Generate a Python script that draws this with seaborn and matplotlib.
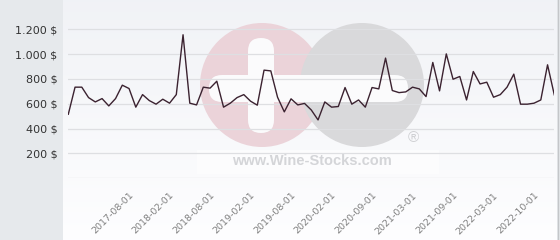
import numpy as np
import pandas as pd
import matplotlib
matplotlib.use("Agg")
import matplotlib.pyplot as plt
from matplotlib.patches import Circle, Rectangle, FancyBboxPatch
import seaborn as sns

# ---- data ----
dates = [
    "2016-11-01", "2016-12-01",
    "2017-01-01", "2017-02-01", "2017-03-01", "2017-04-01", "2017-05-01", "2017-06-01",
    "2017-07-01", "2017-08-01", "2017-09-01", "2017-10-01", "2017-11-01", "2017-12-01",
    "2018-01-01", "2018-02-01", "2018-03-01", "2018-04-01", "2018-05-01", "2018-06-01",
    "2018-07-01", "2018-08-01", "2018-09-01", "2018-10-01", "2018-11-01", "2018-12-01",
    "2019-01-01", "2019-02-01", "2019-03-01", "2019-04-01", "2019-05-01", "2019-06-01",
    "2019-07-01", "2019-08-01", "2019-09-01", "2019-10-01", "2019-11-01", "2019-12-01",
    "2020-01-01", "2020-02-01", "2020-03-01", "2020-05-01", "2020-06-01", "2020-07-01",
    "2020-08-01", "2020-09-01", "2020-10-01", "2020-11-01", "2020-12-01",
    "2021-01-01", "2021-02-01", "2021-03-01", "2021-04-01", "2021-05-01", "2021-06-01",
    "2021-07-01", "2021-08-01", "2021-09-01", "2021-10-01", "2021-11-01", "2021-12-01",
    "2022-01-01", "2022-02-01", "2022-03-01", "2022-04-01", "2022-05-01", "2022-06-01",
    "2022-07-01", "2022-09-01", "2022-10-01", "2022-11-01", "2022-12-01",
    "2023-01-01",
]
prices = [
    516, 734, 734, 650, 615, 642, 583, 642, 750, 723,
    573, 674, 626, 597, 637, 605, 674, 1156, 605, 591,
    734, 726, 782, 573, 605, 650, 674, 621, 589, 871,
    865, 653, 535, 640, 591, 603, 550, 470, 615, 573,
    578, 731, 597, 631, 573, 731, 720, 968, 707, 690,
    696, 734, 720, 658, 933, 704, 1002, 798, 820, 631,
    860, 760, 774, 653, 674, 734, 839, 597, 597, 605,
    631, 914, 672,
]
label_dates = ["2017-08-01", "2018-02-01", "2018-08-01", "2019-02-01", "2019-08-01",
               "2020-02-01", "2020-09-01", "2021-03-01", "2021-09-01", "2022-03-01",
               "2022-10-01"]
y_ticks = [0, 200, 400, 600, 800, 1000, 1200]
y_labels = ["", "200 $", "400 $", "600 $", "800 $", "1.000 $", "1.200 $"]

df = pd.DataFrame({"date": dates, "price": prices})
df["pos"] = np.arange(len(df))

W, H = 560, 240
fig = plt.figure(figsize=(W / 100, H / 100), dpi=100)
fig.patch.set_facecolor("white")

# ---- background layer (pixel coordinates) ----
bg = fig.add_axes([0, 0, 1, 1], zorder=0)
bg.set_xlim(0, W)
bg.set_ylim(H, 0)
bg.axis("off")
grad = np.linspace(0, 1, 100)[:, None]
top = np.array([0.945, 0.951, 0.965])
bot = np.array([0.995, 0.995, 1.0])
img = top[None, None, :] * (1 - grad[..., None]) + bot[None, None, :] * grad[..., None]
bg.imshow(img, extent=[63, 557, H, 0], aspect="auto", zorder=0)
bg.add_patch(Rectangle((0, 0), 63, H, color="#e6e9ec", zorder=1, lw=0))
bg.add_patch(Rectangle((557, 0), 3, H, color="#e6e9ec", zorder=1, lw=0))
bg.plot([557.5, 557.5], [0, H], color="#c4c6c9", lw=1.0, zorder=2)

# watermark
bg.add_patch(Circle((262, 85), 62, color="#ebd3d9", lw=0, zorder=2))
bg.add_patch(Circle((362, 85), 62, color="#d9d9db", lw=0, zorder=3))
bg.add_patch(FancyBboxPatch((209, 75), 199, 27, boxstyle="round,pad=0,rounding_size=13",
                            color="#fbfbfc", lw=0, zorder=4))
bg.add_patch(FancyBboxPatch((248, 38), 26, 95, boxstyle="round,pad=0,rounding_size=13",
                            color="#fbfbfc", lw=0, zorder=4))
bg.add_patch(Rectangle((197, 150), 242, 24, color="#ffffff", alpha=0.55, lw=0, zorder=4))
bg.text(312, 161, "www.Wine-Stocks.com", ha="center", va="center", fontsize=10.5,
        fontweight="bold", family="Liberation Sans", color="#d4d5d8", zorder=5)
bg.text(413, 138, "®", ha="center", va="center", fontsize=11,
        family="Liberation Sans", color="#cfd0d3", zorder=5)

# ---- main chart ----
ax_left, ax_right = 68.3, 554.3
ax_bottom, ax_top = 178.3, 10
ax = fig.add_axes([ax_left / W, (H - ax_bottom) / H, (ax_right - ax_left) / W,
                   (ax_bottom - ax_top) / H], zorder=1)
ax.patch.set_alpha(0)

sns.lineplot(data=df, x="pos", y="price", ax=ax, color="#3b2230", lw=1.0)

ax.set_xlim(0, len(df) - 1)
ax.set_ylim(0, (ax_bottom - ax_top) / 149 * 1200)
ax.set_yticks(y_ticks)
ax.set_yticklabels(y_labels)
tick_pos = [dates.index(d) for d in label_dates]
ax.set_xticks(tick_pos)
ax.set_xticklabels(label_dates, rotation=45, ha="right", rotation_mode="anchor")
ax.tick_params(axis="y", length=0, pad=8, labelsize=8, labelcolor="#333333")
ax.tick_params(axis="x", length=0, pad=9, labelsize=6.8, labelcolor="#808080")
ax.grid(axis="y", color="#dedfe2", lw=0.9)
ax.grid(axis="x", visible=False)
for s in ax.spines.values():
    s.set_visible(False)
ax.set_xlabel("")
ax.set_ylabel("")

fig.savefig("out.png", dpi=100)
